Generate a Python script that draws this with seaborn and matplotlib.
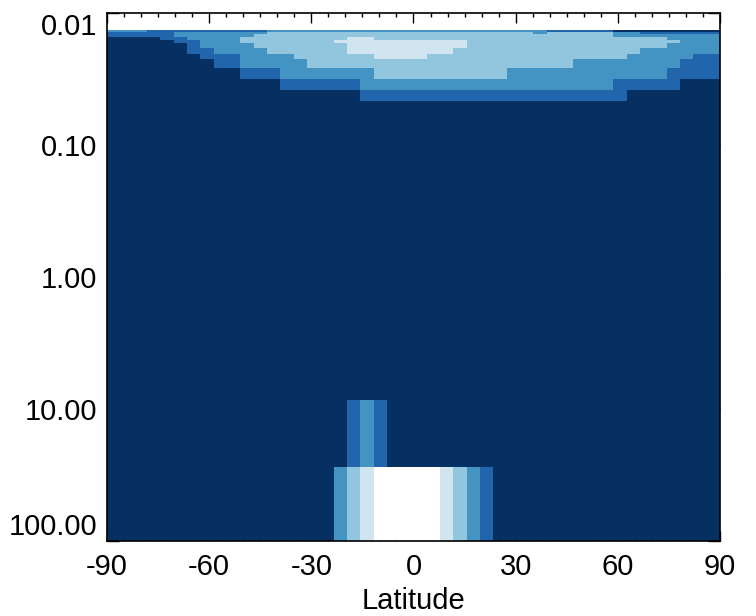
import numpy as np
import matplotlib
matplotlib.use("Agg")
import matplotlib.pyplot as plt
import seaborn as sns
from matplotlib.colors import ListedColormap, BoundaryNorm

# grid: 46 latitude cells, pressure cell edges (log axis)
lat_edges = np.linspace(-90, 90, 47)
p_edges = [0.01334, 0.01403, 0.01455, 0.01532, 0.01614, 0.01702, 0.01857,
           0.02061, 0.02248, 0.0263, 0.03186, 0.03857, 0.04668, 8.53, 27.4, 100.0]

# class index per cell (0 = darkest ... 5 = white), one list per pressure row
r00 = [2, 2, 2] + [1] * 9 + [2] * 21 + [1] * 5 + [0] * 8
r01 = [1] * 5 + [2] * 7 + [3] * 20 + [2] + [3] * 5 + [2, 2] + [1] * 6
r02 = [1] * 5 + [2] * 6 + [3] * 27 + [2] * 8
r03 = [0] * 4 + [1, 1] + [2] * 4 + [3] * 8 + [4, 4] + [3] * 22 + [2] * 4
r04 = [0] * 5 + [1, 1] + [2] * 3 + [3] * 7 + [4] * 10 + [3] * 16 + [2] * 3
r05 = [0] * 6 + [1] + [2] * 4 + [3] * 7 + [4] * 9 + [3] * 15 + [2] * 4
r06 = [0] * 6 + [1, 1] + [2] * 4 + [3] * 6 + [4] * 8 + [3] * 14 + [2] * 6
r07 = [0] * 7 + [1] * 3 + [2] * 4 + [3] * 6 + [4] * 4 + [3] * 15 + [2] * 5 + [1, 1]
r08 = [0] * 8 + [1, 1] + [2] * 5 + [3] * 20 + [2] * 8 + [1] * 3
r09 = [0] * 10 + [1] * 3 + [2] * 7 + [3] * 10 + [2] * 12 + [1] * 4
r10 = [0] * 13 + [1] * 6 + [2] * 19 + [1] * 5 + [0] * 3
r11 = [0] * 19 + [1] * 20 + [0] * 7
r12 = [0] * 46
r13 = [0] * 18 + [1, 2, 1] + [0] * 25
r14 = [0] * 17 + [2, 3, 4, 5, 5, 5, 5, 5, 4, 3, 2, 1] + [0] * 17

class_colors = ["#053061", "#2166ac", "#4393c3", "#92c5de", "#d1e5f0", "#ffffff"]

y_ticks = [0.01, 0.1, 1, 10, 100]
y_labels = ["0.01", "0.10", "1.00", "10.00", "100.00"]
x_ticks = [-90, -60, -30, 0, 30, 60, 90]

sns.set_style("ticks")
plt.rcParams['font.family'] = ['Liberation Sans', 'DejaVu Sans']
plt.rcParams['axes.unicode_minus'] = False
plt.rcParams['font.size'] = 21
plt.rcParams['text.color'] = 'black'
plt.rcParams['axes.labelcolor'] = 'black'
plt.rcParams['xtick.color'] = 'black'
plt.rcParams['ytick.color'] = 'black'

grid = np.array([r00, r01, r02, r03, r04, r05, r06, r07, r08, r09,
                 r10, r11, r12, r13, r14])
cmap = ListedColormap(sns.color_palette(class_colors))
norm = BoundaryNorm(np.arange(-0.5, len(class_colors)), cmap.N)

fig = plt.figure(figsize=(7.56, 6.16), dpi=100)
ax = fig.add_axes([0.1415, 0.1218, 0.8109, 0.8571])
ax.pcolormesh(lat_edges, p_edges, grid, cmap=cmap, norm=norm)

ax.set_yscale('log')
ax.set_xlim(-90, 90)
ax.set_ylim(100, 0.01)

ax.set_yticks(y_ticks)
ax.set_yticklabels(y_labels)
ax.yaxis.set_minor_locator(matplotlib.ticker.NullLocator())
ax.set_xticks(x_ticks)
ax.set_xticklabels([str(v) for v in x_ticks])
ax.xaxis.set_minor_locator(matplotlib.ticker.MultipleLocator(5))

ax.tick_params(axis='x', which='major', direction='in', top=True, length=7, width=1, pad=9,
               labelcolor='black')
ax.tick_params(axis='x', which='minor', direction='in', top=True, length=3, width=1)
ax.tick_params(axis='y', which='major', direction='in', right=True, length=8.5, width=1, pad=7,
               labelcolor='black')
for lab in ax.get_yticklabels():
    if lab.get_text() == "0.01":
        lab.set_va('top')
    elif lab.get_text() == "100.00":
        lab.set_va('bottom')

for sp in ax.spines.values():
    sp.set_linewidth(1.2)
    sp.set_color('black')

ax.set_xlabel('Latitude', labelpad=4, color='black')

fig.savefig('out.png', dpi=100)
